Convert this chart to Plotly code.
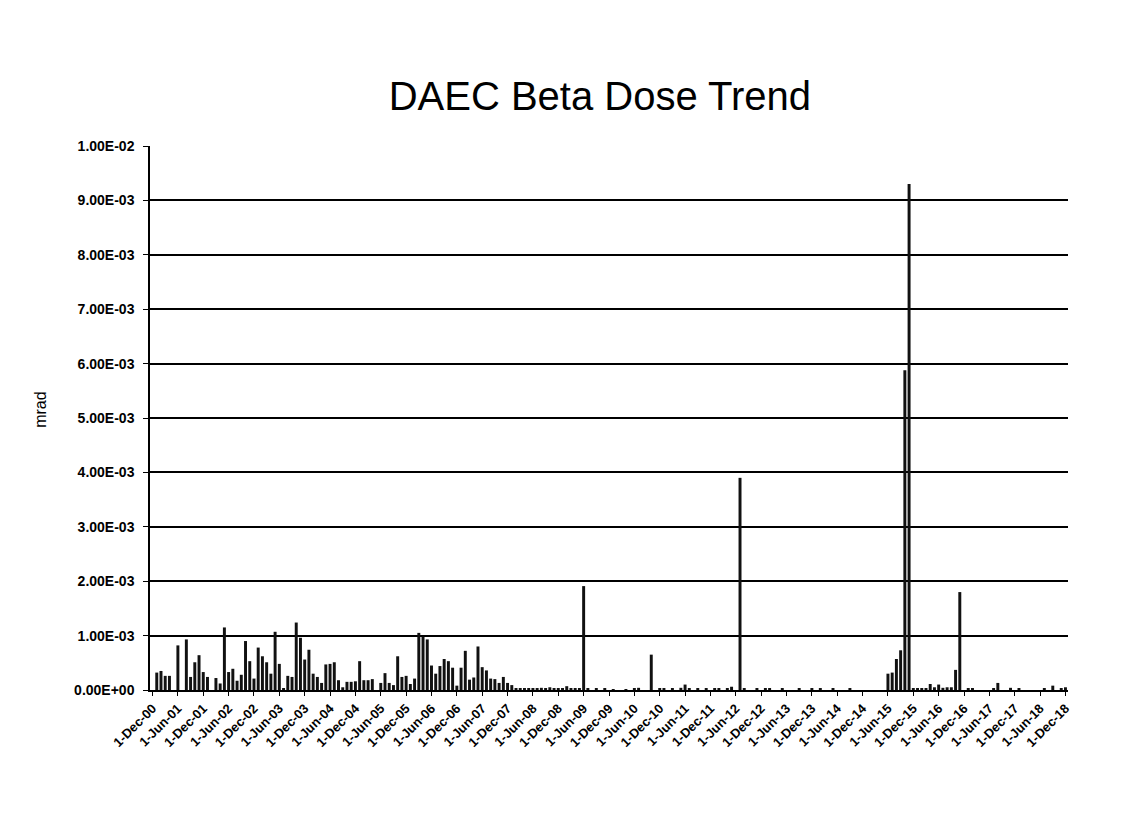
import pandas as pd
import plotly.graph_objects as go

# Monthly categories Dec-2000 .. Dec-2018
months = pd.date_range("2000-12-01", "2018-12-01", freq="MS")
month_keys = [d.strftime("%Y-%m") for d in months]

# Beta dose values in units of 1E-03 mrad
beta_e3 = [
    0.00, 0.32, 0.35, 0.26, 0.26, 0.00, 0.82, 0.00, 0.93, 0.24,
    0.51, 0.64, 0.33, 0.24, 0.00, 0.22, 0.12, 1.15, 0.33, 0.39,
    0.17, 0.28, 0.90, 0.53, 0.21, 0.78, 0.62, 0.51, 0.30, 1.07,
    0.48, 0.03, 0.26, 0.24, 1.24, 0.96, 0.56, 0.74, 0.30, 0.24,
    0.13, 0.47, 0.48, 0.51, 0.18, 0.05, 0.15, 0.15, 0.16, 0.53,
    0.18, 0.18, 0.20, 0.00, 0.13, 0.31, 0.13, 0.09, 0.62, 0.24,
    0.26, 0.11, 0.21, 1.05, 0.98, 0.93, 0.45, 0.30, 0.44, 0.57,
    0.53, 0.41, 0.08, 0.41, 0.72, 0.19, 0.23, 0.80, 0.42, 0.36,
    0.21, 0.20, 0.13, 0.24, 0.13, 0.09, 0.03, 0.03, 0.03, 0.02,
    0.03, 0.03, 0.04, 0.03, 0.05, 0.03, 0.03, 0.02, 0.07, 0.03,
    0.03, 0.03, 1.91, 0.03, 0.00, 0.03, 0.00, 0.03, 0.00, 0.01,
    0.00, 0.00, 0.01, 0.00, 0.02, 0.04, 0.00, 0.00, 0.65, 0.00,
    0.02, 0.02, 0.00, 0.02, 0.00, 0.04, 0.10, 0.02, 0.00, 0.02,
    0.00, 0.02, 0.00, 0.02, 0.02, 0.00, 0.02, 0.06, 0.00, 3.90,
    0.02, 0.00, 0.00, 0.02, 0.00, 0.03, 0.02, 0.00, 0.00, 0.02,
    0.00, 0.00, 0.00, 0.02, 0.00, 0.00, 0.02, 0.00, 0.03, 0.00,
    0.00, 0.03, 0.00, 0.00, 0.00, 0.02, 0.00, 0.00, 0.00, 0.00,
    0.00, 0.00, 0.00, 0.00, 0.30, 0.32, 0.57, 0.73, 5.88, 9.30,
    0.03, 0.03, 0.03, 0.03, 0.11, 0.05, 0.10, 0.04, 0.05, 0.05,
    0.37, 1.80, 0.00, 0.03, 0.03, 0.00, 0.00, 0.00, 0.00, 0.02,
    0.13, 0.00, 0.00, 0.04, 0.00, 0.02, 0.00, 0.00, 0.00, 0.00,
    0.00, 0.02, 0.00, 0.08, 0.00, 0.02, 0.05,
]
beta_dose = [v * 1e-3 for v in beta_e3]

# x tick labels every 6 months
x_tick_keys = month_keys[::6]
x_tick_text = [f"1-{d.strftime('%b-%y')}" for d in months[::6]]

# y tick labels
y_tick_vals = [i * 1e-3 for i in range(11)]
y_tick_text = ["0.00E+00", "1.00E-03", "2.00E-03", "3.00E-03", "4.00E-03",
               "5.00E-03", "6.00E-03", "7.00E-03", "8.00E-03", "9.00E-03",
               "1.00E-02"]

fig = go.Figure()
fig.add_trace(go.Bar(
    x=month_keys, y=beta_dose,
    marker=dict(color="#111111", line=dict(width=0)),
    showlegend=False,
))

fig.update_layout(
    width=1147, height=838,
    paper_bgcolor="white", plot_bgcolor="white",
    margin=dict(l=142, r=87, t=138, b=156, autoexpand=False),
    bargap=0.3,
    font=dict(family="Liberation Sans, Arial, sans-serif", color="black"),
    title=dict(text="DAEC Beta Dose Trend", x=0.516, xref="container",
               y=0.895, yref="container", xanchor="center", yanchor="middle",
               font=dict(size=40, color="black")),
)
fig.update_xaxes(
    type="category",
    range=[-0.6, 216.6],
    automargin=False,
    tickmode="array", tickvals=x_tick_keys, ticktext=x_tick_text,
    tickangle=-45,
    tickfont=dict(size=13, family="Liberation Sans, Arial", color="black",
                  weight="bold"),
    showgrid=False,
    showline=True, linecolor="black", linewidth=1.5,
    ticks="outside", ticklen=4, tickcolor="black",
)
fig.update_yaxes(
    range=[0, 1.0e-2],
    automargin=False,
    tickmode="array", tickvals=y_tick_vals, ticktext=y_tick_text,
    tickfont=dict(size=14, family="Liberation Sans, Arial", color="black",
                  weight="bold"),
    ticklabelstandoff=6,
    showgrid=True, gridcolor="black", gridwidth=1.6,
    showline=True, linecolor="black", linewidth=1.5,
    zeroline=False,
    ticks="outside", ticklen=5, tickcolor="black",
)
fig.add_annotation(
    text="mrad", xref="paper", yref="paper", x=-0.1188, y=0.515,
    textangle=-90, showarrow=False, xanchor="center", yanchor="middle",
    font=dict(size=16, color="black"),
)

fig.write_html("out.html")
